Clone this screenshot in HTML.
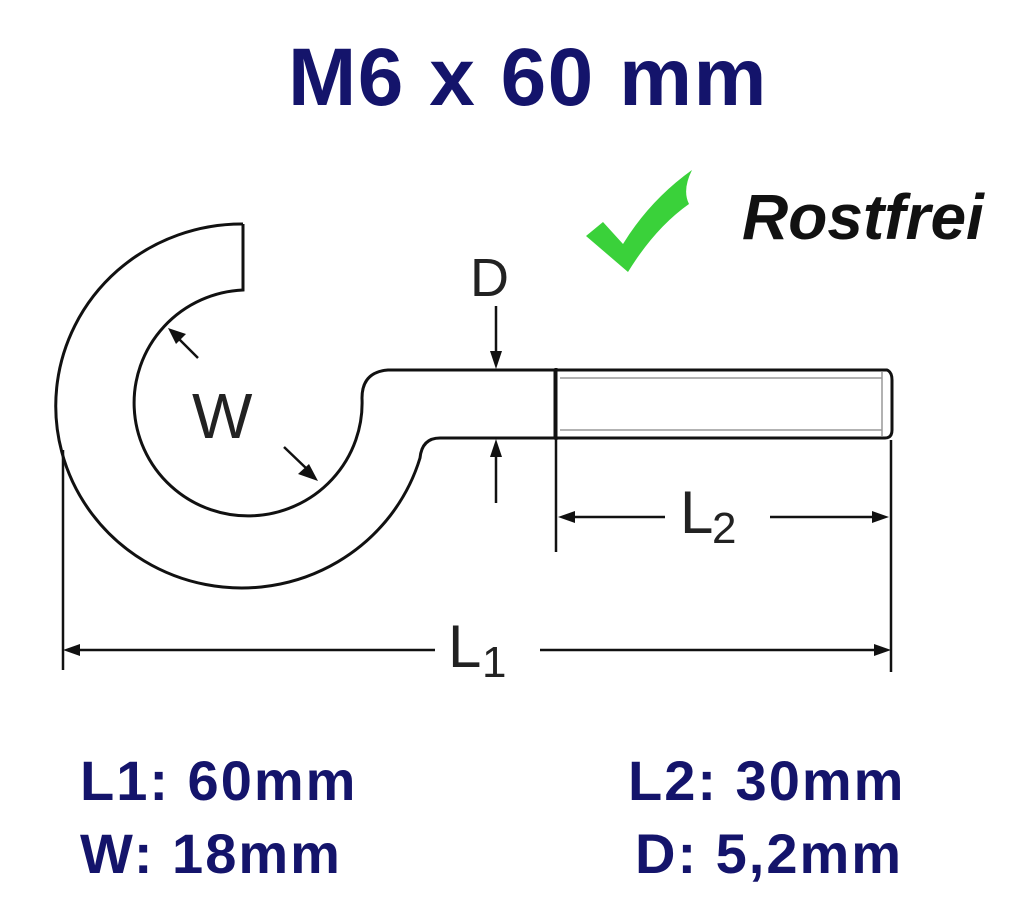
<!DOCTYPE html>
<html><head><style>
body{margin:0;width:1024px;height:914px;background:#fff;overflow:hidden;position:relative;font-family:"Liberation Sans",sans-serif}
.t{position:absolute;color:#14146b;font-weight:bold;white-space:nowrap}
</style></head><body>
<div class="t" style="left:288px;top:31px;font-size:82px;letter-spacing:1.5px">M6 x 60 mm</div>
<div style="position:absolute;left:742px;top:180px;font-size:64px;font-style:italic;font-weight:bold;color:#111">Rostfrei</div>
<svg width="1024" height="914" style="position:absolute;left:0;top:0">
<path d="M586 236 L603 222 L623 244 Q650 200 692 170 Q682 190 689 204 Q655 228 628 272 Z" fill="#3ad13a"/>
<g fill="none" stroke="#111" stroke-width="3">
<path d="M243 224 L243 290 A114 113 0 1 0 362 398 Q362 372 388 370 L555 370"/>
<path d="M243 224 A186 182 0 1 0 420 458 Q422 438 440 438 L555 438"/>
<path d="M555 370 L887 370 Q892 372 892 380 L892 430 Q892 438 885 438 L555 438 Z"/>
<line x1="556" y1="368" x2="556" y2="440"/>
</g>
<g stroke="#999" stroke-width="1.5" fill="none"><line x1="560" y1="378" x2="882" y2="378"/><line x1="560" y1="430" x2="882" y2="430"/><line x1="882" y1="372" x2="882" y2="436"/></g>
<g stroke="#111" stroke-width="2.5" fill="none">
<line x1="63" y1="450" x2="63" y2="670"/>
<line x1="891" y1="440" x2="891" y2="672"/>
<line x1="556" y1="440" x2="556" y2="552"/>
<line x1="70" y1="650" x2="435" y2="650"/><line x1="540" y1="650" x2="884" y2="650"/>
<line x1="562" y1="517" x2="665" y2="517"/><line x1="770" y1="517" x2="884" y2="517"/>
<line x1="496" y1="306" x2="496" y2="355"/><line x1="496" y1="452" x2="496" y2="503"/>
<line x1="198" y1="358" x2="175" y2="335"/><line x1="284" y1="447" x2="308" y2="470"/>
</g>
<g fill="#111">
<polygon points="63,650 80,644 80,656"/><polygon points="891,650 874,644 874,656"/>
<polygon points="558,517 575,511 575,523"/><polygon points="889,517 872,511 872,523"/>
<polygon points="496,369 490,351 502,351"/><polygon points="496,439 490,457 502,457"/>
<polygon points="168,328 186,334 176,344"/><polygon points="318,481 298,474 309,464"/>
</g>
<g font-family="Liberation Sans,sans-serif" fill="#222" font-size="60">
<text x="470" y="296" font-size="54">D</text>
<text x="192" y="438" font-size="64">W</text>
<text x="680" y="533">L</text><text x="712" y="543" font-size="44">2</text>
<text x="448" y="667">L</text><text x="482" y="677" font-size="44">1</text>
</g>
</svg>
<div class="t" style="left:80px;top:748px;font-size:56px;letter-spacing:2px">L1: 60mm</div>
<div class="t" style="left:80px;top:821px;font-size:56px;letter-spacing:2px">W: 18mm</div>
<div class="t" style="left:628px;top:748px;font-size:56px;letter-spacing:2px">L2: 30mm</div>
<div class="t" style="left:635px;top:821px;font-size:56px;letter-spacing:2px">D: 5,2mm</div>
</body></html>
